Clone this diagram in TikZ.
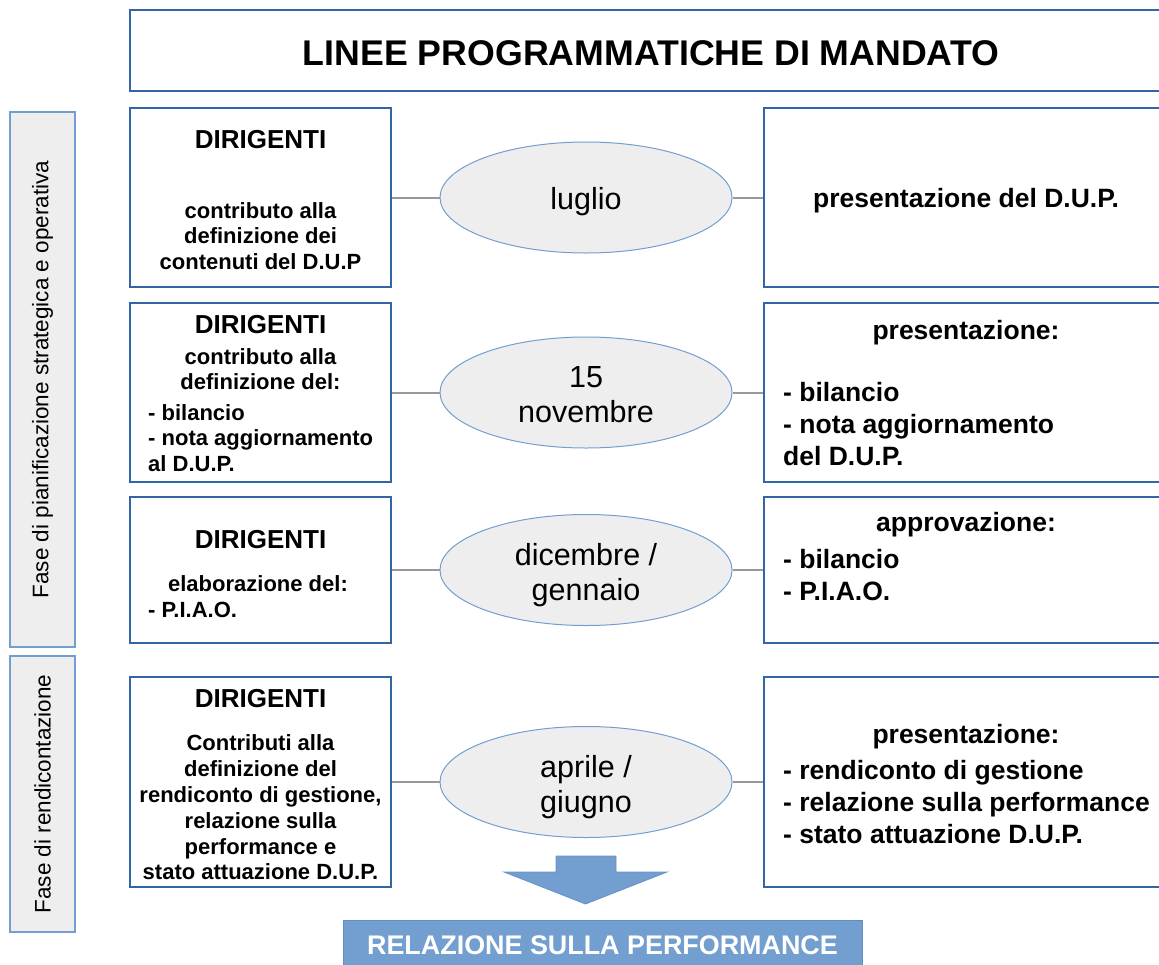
\documentclass[tikz,border=0pt]{standalone}
\usepackage{fontspec}
\setmainfont{Liberation Sans}
\usetikzlibrary{shapes.geometric}
\definecolor{bordo}{RGB}{52,101,164}
\definecolor{azz}{RGB}{114,159,207}
\definecolor{grigio}{RGB}{238,238,238}
\definecolor{linea}{RGB}{153,153,153}
\begin{document}
\begin{tikzpicture}[x=1pt,y=-1pt,
 box/.style={draw=bordo,line width=2pt,fill=white,inner sep=0pt},
 mese/.style={ellipse,draw=azz,line width=1pt,fill=grigio,minimum width=292pt,minimum height=111pt,inner sep=0pt},
 etxt/.style={inner sep=0pt,align=center,font=\fontsize{30.5}{35}\selectfont},
 fase/.style={draw=azz,line width=1.2pt,fill=grigio,minimum height=65pt,inner sep=0pt,rotate=90,font=\fontsize{22.5}{26}\selectfont},
 conn/.style={draw=linea,line width=2pt},
 head/.style={font=\fontsize{26}{30}\selectfont\bfseries,inner sep=0pt},
 ltxt/.style={font=\fontsize{22}{25.5}\selectfont\bfseries,inner sep=0pt,align=center},
 llist/.style={font=\fontsize{22}{25.5}\selectfont\bfseries,inner sep=0pt,align=left,anchor=west},
 rtxt/.style={font=\fontsize{26.5}{32}\selectfont\bfseries,inner sep=0pt,align=center},
 rlist/.style={font=\fontsize{26.5}{32}\selectfont\bfseries,inner sep=0pt,align=left,anchor=west},
]
\clip (0,0) rectangle (1159,964);
\fill[white] (0,0) rectangle (1159,964);

% title
\node[box,minimum width=1040pt,minimum height=81pt] (T) at (650,50.5) {};
\node[inner sep=0pt,font=\fontsize{35.7}{40}\selectfont\bfseries] (Tt) at (651,53.5) {LINEE PROGRAMMATICHE DI MANDATO};

% phase labels
\node[fase,minimum width=535pt] (F1) at (42.5,379.5) {Fase di pianificazione strategica e operativa};
\node[fase,minimum width=276pt] (F2) at (42.5,794) {Fase di rendicontazione};

% left boxes
\node[box,minimum width=261pt,minimum height=179pt] (L1) at (260.5,197.5) {};
\node[box,minimum width=261pt,minimum height=179pt] (L2) at (260.5,392.5) {};
\node[box,minimum width=261pt,minimum height=146pt] (L3) at (260.5,570) {};
\node[box,minimum width=261pt,minimum height=210pt] (L4) at (260.5,782) {};

% right boxes
\node[box,minimum width=404pt,minimum height=179pt] (R1) at (966,197.5) {};
\node[box,minimum width=404pt,minimum height=179pt] (R2) at (966,392.5) {};
\node[box,minimum width=404pt,minimum height=146pt] (R3) at (966,570) {};
\node[box,minimum width=404pt,minimum height=210pt] (R4) at (966,782) {};

% ellipses
\node[mese] (E1) at (586,197.5) {};
\node[mese] (E2) at (586,392.5) {};
\node[mese] (E3) at (586,570) {};
\node[mese] (E4) at (586,782) {};
\node[etxt] (E1t) at (586,201.5) {luglio};
\node[etxt] (E2t) at (586,394.5) {15\\novembre};
\node[etxt] (E3t) at (586,575) {dicembre /\\gennaio};
\node[etxt] (E4t) at (586,787) {aprile /\\giugno};

% connectors
\draw[conn] (L1.east) -- (E1.west);
\draw[conn] (E1.east) -- (R1.west);
\draw[conn] (L2.east) -- (E2.west);
\draw[conn] (E2.east) -- (R2.west);
\draw[conn] (L3.east) -- (E3.west);
\draw[conn] (E3.east) -- (R3.west);
\draw[conn] (L4.east) -- (E4.west);
\draw[conn] (E4.east) -- (R4.west);

% left texts
\node[head] (L1h) at (260.5,140) {DIRIGENTI};
\node[ltxt] (L1t) at (260.5,236) {contributo alla\\definizione dei\\contenuti del D.U.P};
\node[head] (L2h) at (260.5,324.5) {DIRIGENTI};
\node[ltxt] (L2t) at (260.5,369) {contributo alla\\definizione del:};
\node[llist] (L2l) at (148,438) {- bilancio\\- nota aggiornamento\\al D.U.P.};
\node[head] (L3h) at (260.5,539.5) {DIRIGENTI};
\node[ltxt] (L3t) at (258,584) {elaborazione del:};
\node[llist] (L3l) at (148,610) {- P.I.A.O.};
\node[head] (L4h) at (260.5,698.5) {DIRIGENTI};
\node[ltxt,font=\fontsize{22}{25.8}\selectfont\bfseries] (L4t) at (260.5,807.5) {Contributi alla\\definizione del\\rendiconto di gestione,\\relazione sulla\\performance e\\stato attuazione D.U.P.};

% right texts
\node[rtxt] (R1t) at (966,201) {presentazione del D.U.P.};
\node[rtxt] (R2h) at (966,333) {presentazione:};
\node[rlist] (R2l) at (783,424) {- bilancio\\- nota aggiornamento\\del D.U.P.};
\node[rtxt] (R3h) at (966,525) {approvazione:};
\node[rlist] (R3l) at (783,575) {- bilancio\\- P.I.A.O.};
\node[rtxt] (R4h) at (966,737) {presentazione:};
\node[rlist] (R4l) at (783,802) {- rendiconto di gestione\\- relazione sulla performance\\- stato attuazione D.U.P.};

% block arrow
\filldraw[fill=azz,draw=azz!80!bordo,line width=0.8pt] (556,856) -- (616,856) -- (616,872) -- (667,872) -- (585.5,904) -- (504,872) -- (556,872) -- cycle;

% bottom box
\node[draw=azz!70!bordo,line width=1pt,fill=azz,minimum width=519pt,minimum height=50pt,inner sep=0pt,text=white,font=\fontsize{26.9}{30}\selectfont\bfseries] (RP) at (602.5,945) {RELAZIONE SULLA PERFORMANCE};
\end{tikzpicture}
\end{document}
